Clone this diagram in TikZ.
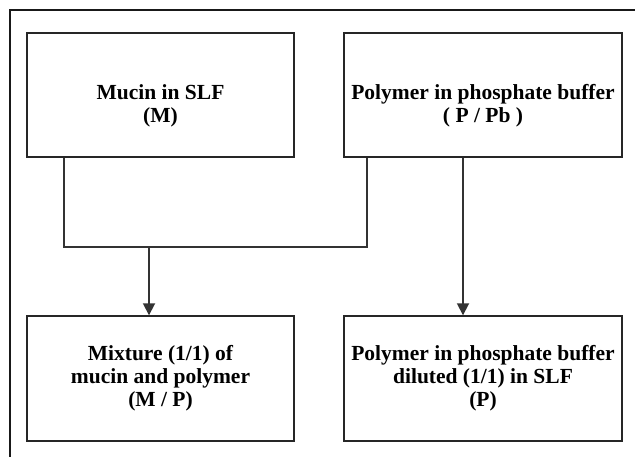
\documentclass[tikz,border=0pt]{standalone}
\usepackage{fontspec}
\setmainfont{Liberation Serif}
\usetikzlibrary{arrows.meta}

\begin{document}
\begin{tikzpicture}[x=1pt,y=-1pt,
  stage/.style={draw=black!85,line width=1.4pt,align=center,inner sep=0pt,
    font=\bfseries\fontsize{21.5}{23}\selectfont},
  flow/.style={draw=black!80,line width=1.8pt},
  flowarrow/.style={flow,-{Triangle[width=12pt,length=12pt]}}]
  \useasboundingbox (0,0) rectangle (635,457);

  % frame
  \coordinate (frametop) at (635,10);
  \coordinate (framecorner) at (10,10);
  \coordinate (framebottom) at (10,457);
  \draw[line width=2pt,black!90] (frametop) -- (framecorner) -- (framebottom);

  % stages
  \node[stage,minimum width=267pt,minimum height=124pt] (mucin) at (160.5,95)
    {\rule{0pt}{36pt}Mucin in SLF\\(M)};
  \node[stage,minimum width=278pt,minimum height=124pt] (polymer) at (483,95)
    {\rule{0pt}{36pt}Polymer in phosphate buffer\\( P / Pb )};
  \node[stage,minimum width=267pt,minimum height=125pt] (mixture) at (160.5,378.5)
    {Mixture (1/1) of\\mucin and polymer\\(M / P)};
  \node[stage,minimum width=278pt,minimum height=125pt] (diluted) at (483,378.5)
    {Polymer in phosphate buffer\\diluted (1/1) in SLF\\(P)};

  % connectors
  \coordinate (join) at (149,247);
  \draw[flow] ([xshift=37.5pt]mucin.south west) |- (join)
    -| ([xshift=23.5pt]polymer.south west);
  \draw[flowarrow] (join) -- (join |- mixture.north);
  \draw[flowarrow] ([xshift=-20pt]polymer.south) -- ([xshift=-20pt]diluted.north);
\end{tikzpicture}
\end{document}
